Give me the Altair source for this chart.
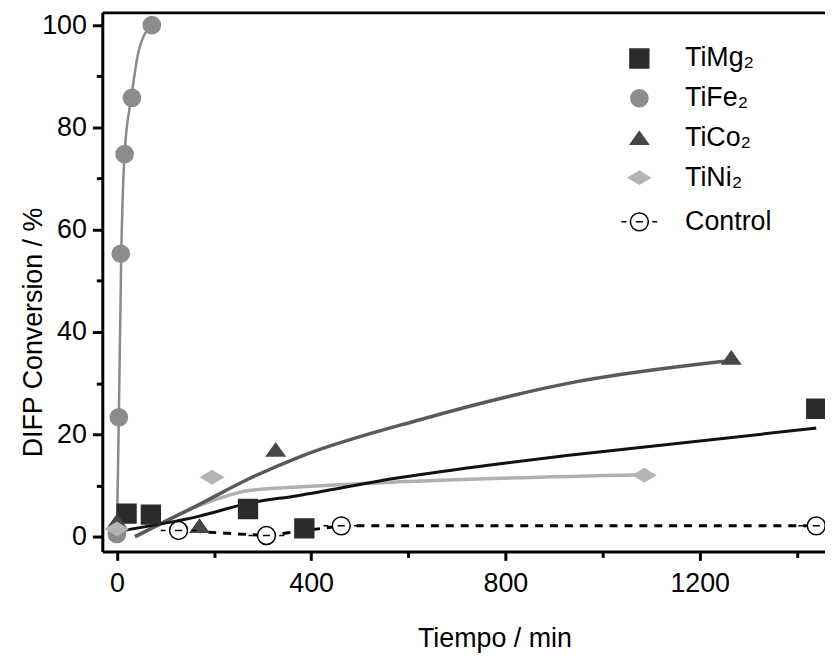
import altair as alt
import pandas as pd

# ---------------- data ----------------
series_names = ["TiMg₂", "TiFe₂", "TiCo₂", "TiNi₂", "Control"]

timg_t = [20, 70, 270, 386, 1440]
timg_y = [4.5, 4.3, 5.4, 1.6, 25.0]
tife_t = [0, 4, 8, 16, 31, 72]
tife_y = [0.5, 23.3, 55.3, 74.8, 85.8, 100.0]
tico_t = [0, 170, 327, 1265]
tico_y = [3.0, 2.1, 17.0, 35.0]
tini_t = [0, 196, 1086]
tini_y = [1.5, 11.6, 12.0]
ctrl_t = [127, 308, 462, 1440]
ctrl_y = [1.2, 0.2, 2.1, 2.1]

# fitted curves
timg_fit_t = [0, 170, 270, 372, 580, 785, 950, 1440]
timg_fit_y = [1.0, 4.0, 6.5, 8.0, 11.5, 14.2, 16.1, 21.2]
tife_fit_t = [0, 4, 9, 16, 30, 45, 72]
tife_fit_y = [0.0, 23.0, 55.0, 75.0, 86.0, 95.0, 100.0]
tico_fit_t = [37, 168, 272, 374, 626, 947, 1250]
tico_fit_y = [0.0, 6.2, 11.3, 15.5, 22.9, 30.3, 34.3]
tini_fit_t = [40, 168, 272, 374, 580, 1080]
tini_fit_y = [0.0, 6.0, 9.0, 9.7, 10.7, 12.1]

x_ticks = [0, 200, 400, 600, 800, 1000, 1200, 1400]
y_ticks = [0, 10, 20, 30, 40, 50, 60, 70, 80, 90, 100]

# ---------------- build tables ----------------
pts = []
for name, ts, ys in [
    (series_names[0], timg_t, timg_y),
    (series_names[1], tife_t, tife_y),
    (series_names[2], tico_t, tico_y),
    (series_names[3], tini_t, tini_y),
    (series_names[4], ctrl_t, ctrl_y),
]:
    for t, v in zip(ts, ys):
        pts.append({"series": name, "t": t, "y": v})
pts_df = pd.DataFrame(pts)

FONT = "Liberation Sans"

x_scale = alt.Scale(domain=[-30, 1458], nice=False, zero=False)
y_scale = alt.Scale(domain=[-2.9, 102.5], nice=False, zero=False)

x_axis = alt.Axis(
    values=x_ticks,
    format="d",
    labelExpr="datum.value % 400 === 0 ? datum.label : ''",
    tickSize={"condition": {"test": "datum.value % 400 === 0", "value": 9}, "value": 6},
    labelPadding=10,
    titlePadding=30,
    titleX=395,
    title="Tiempo / min",
)
y_axis = alt.Axis(
    values=y_ticks,
    format="d",
    labelExpr="datum.value % 20 === 0 ? datum.label : ''",
    tickSize={"condition": {"test": "datum.value % 20 === 0", "value": 10}, "value": 6},
    labelPadding=6,
    titlePadding=-6,
    titleY=322,
    title="DIFP Conversion / %",
)

TRI = "M0,-0.7L1,0.7L-1,0.7Z"
DIA = "M-1,0L0,-0.6L1,0L0,0.6Z"
CTRL = ("M-0.5,0A0.5,0.5,0,1,1,0.5,0A0.5,0.5,0,1,1,-0.5,0Z"
        "M-1,0L-0.72,0M0.72,0L1,0M-0.2,0L0.2,0")

shape_range = ["square", "circle", TRI, DIA, CTRL]
fill_range = ["#2b2b2b", "#8c8c8c", "#474747", "#b4b4b4", "white"]
stroke_range = ["#2b2b2b", "#8c8c8c", "#474747", "#b4b4b4", "black"]
size_range = [360, 300, 330, 480, 1300]

legend = alt.Legend(
    title=None,
    orient="none",
    legendX=522,
    legendY=33,
    labelFont=FONT,
    labelFontSize=27,
    labelColor="black",
    labelOffset=27,
    rowPadding=12,
    symbolStrokeWidth=1.5,
)


def fit_layer(ts, ys, color, width, dash=None, top_axis=False):
    df = pd.DataFrame({"t": ts, "y": ys})
    kw = dict(color=color, strokeWidth=width, interpolate="monotone")
    if dash:
        kw["strokeDash"] = dash
    if top_axis:
        xa = alt.Axis(orient="top", labels=False, ticks=False, title=None,
                      domainWidth=3, domainColor="black")
    else:
        xa = None
    return alt.Chart(df).mark_line(**kw).encode(
        x=alt.X("t:Q", scale=x_scale, axis=xa),
        y=alt.Y("y:Q", scale=y_scale, axis=y_axis),
    )


ctrl_df = pd.DataFrame({"t": ctrl_t, "y": ctrl_y})
ctrl_line = alt.Chart(ctrl_df).mark_line(
    color="black", strokeWidth=3, strokeDash=[8, 7]
).encode(
    x=alt.X("t:Q", scale=x_scale, axis=None),
    y=alt.Y("y:Q", scale=y_scale, axis=y_axis),
)

points = alt.Chart(pts_df).mark_point(filled=False, opacity=1, strokeWidth=1.5).encode(
    x=alt.X("t:Q", scale=x_scale, axis=x_axis),
    y=alt.Y("y:Q", scale=y_scale, axis=y_axis),
    shape=alt.Shape("series:N", scale=alt.Scale(type="ordinal", domain=series_names, range=shape_range), legend=legend),
    fill=alt.Fill("series:N", scale=alt.Scale(type="ordinal", domain=series_names, range=fill_range), legend=legend),
    stroke=alt.Stroke("series:N", scale=alt.Scale(type="ordinal", domain=series_names, range=stroke_range), legend=legend),
    size=alt.Size("series:N", scale=alt.Scale(type="ordinal", domain=series_names, range=size_range), legend=legend),
)

chart = alt.layer(
    fit_layer(tife_fit_t, tife_fit_y, "#8a8a8a", 2.5, top_axis=True),
    fit_layer(tini_fit_t, tini_fit_y, "#b0b0b0", 3.5),
    fit_layer(tico_fit_t, tico_fit_y, "#5a5a5a", 3.5),
    fit_layer(timg_fit_t, timg_fit_y, "#111111", 3),
    ctrl_line,
    points,
).resolve_axis(x="independent").properties(
    width=728,
    height=543,
    autosize=alt.AutoSizeParams(type="none"),
    padding={"left": 95, "top": 2, "right": 0, "bottom": 110},
).configure_view(stroke=None).configure_axis(
    labelFont=FONT,
    labelFontSize=27,
    labelColor="black",
    titleFont=FONT,
    titleFontSize=27,
    titleFontWeight="normal",
    titleColor="black",
    domainColor="black",
    domainWidth=3,
    tickColor="black",
    tickWidth=3,
    grid=False,
)

chart.save("out.html", embed_options={"renderer": "svg", "actions": False})
